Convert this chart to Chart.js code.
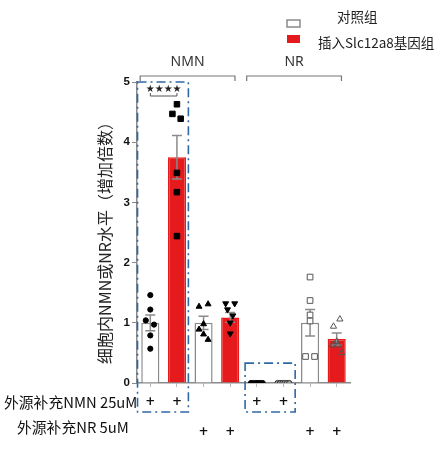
<!DOCTYPE html>
<html><head><meta charset="utf-8">
<script src="https://cdn.jsdelivr.net/npm/chart.js@4"></script>
<style>html,body{margin:0;padding:0;background:#fff;}canvas{display:block;}</style>
</head><body>
<canvas id="c" width="447" height="454"></canvas>
<script>
// ---- data ----
const categories = ['NMN-对照','NMN-Slc12a8','NR-对照','NR-Slc12a8','NMN(NR检测)-对照','NMN(NR检测)-Slc12a8','NR(NR检测)-对照','NR(NR检测)-Slc12a8'];
const means = [1.00, 3.75, 1.00, 1.09, 0, 0, 1.00, 0.73];
const sem   = [0.13, 0.36, 0.11, 0.08, 0, 0, 0.22, 0.10];
const pts0 = [1.46, 1.22, 1.04, 0.97, 0.79, 0.57];
const pts1 = [4.63, 4.47, 4.39, 3.49, 3.17, 2.44];
const pts2 = [1.27, 1.31, 0.98, 0.89, 0.81, 0.72];
const pts3 = [1.32, 1.32, 1.22, 1.12, 1.00, 0.82];
const pts4 = [0, 0, 0, 0, 0, 0];
const pts5 = [0, 0, 0, 0, 0, 0];
const pts6 = [1.76, 1.37, 1.13, 1.03, 0.44, 0.44];
const pts7 = [1.06, 0.94, 0.69, 0.63, 0.63, 0.50];
const jit0 = [0, 0, -0.17, 0.14, 0, 0];
const jit1 = [0, -0.17, 0.14, 0, 0, 0];
const jit2 = [-0.17, 0.17, 0, -0.17, 0, 0.17];
const jit3 = [-0.17, 0.17, -0.1, 0.1, 0, 0];
const jit4 = [-0.22, -0.13, -0.04, 0.04, 0.13, 0.22];
const jit5 = [-0.22, -0.13, -0.04, 0.04, 0.13, 0.22];
const jit6 = [0, 0, 0, 0, -0.17, 0.17];
const jit7 = [0.12, -0.12, 0, -0.17, 0.05, 0.19];
const nmnAdded = [1,1,0,0,1,1,0,0];
const nrAdded  = [0,0,1,1,0,0,1,1];
const groupLabels = ['NMN','NR'];
const yTicks = [0,1,2,3,4,5];
const legendLabels = ['对照组','插入Slc12a8基因组'];
const rowLabels = ['外源补充NMN 25uM','外源补充NR 5uM'];
const yTitle = '细胞内NMN或NR水平（增加倍数）';

const RED = '#e41a1c', GREY = '#8a8a8a';
const toXY = (vals, jit, idx) => vals.map((v,i)=>({x: idx + jit[i], y: v}));

function ptDs(vals, jit, idx, style, fill, stroke, rot, r) {
  return {type:'scatter', data: toXY(vals, jit, idx), pointStyle: style,
    pointRadius: r || 3.2, pointBackgroundColor: fill, pointBorderColor: stroke,
    pointBorderWidth: 1, pointRotation: rot || 0, order: 0};
}

const overlay = {
  id: 'overlay',
  afterDatasetDraw(chart, args) {
    if (args.index !== 0) return;
    const ctx = chart.ctx, x = chart.scales.x, y = chart.scales.y;
    ctx.save();
    ctx.strokeStyle = GREY; ctx.lineWidth = 1.5;
    means.forEach((m,i)=>{
      if (!sem[i]) return;
      const cx = x.getPixelForValue(i);
      const t = y.getPixelForValue(m+sem[i]), b = y.getPixelForValue(m-sem[i]);
      ctx.beginPath(); ctx.moveTo(cx,t); ctx.lineTo(cx,b);
      ctx.moveTo(cx-5,t); ctx.lineTo(cx+5,t); ctx.moveTo(cx-5,b); ctx.lineTo(cx+5,b); ctx.stroke();
    });
    ctx.restore();
  },
  afterDraw(chart) {
    const ctx = chart.ctx, x = chart.scales.x, y = chart.scales.y;
    const cw = x.getPixelForValue(1) - x.getPixelForValue(0);
    ctx.save();
    // y title
    ctx.save();
    ctx.translate(105, 239); ctx.rotate(-Math.PI/2);
    ctx.font = '16px "Noto Sans CJK SC", "Noto Sans", sans-serif';
    ctx.fillStyle = '#222'; ctx.textAlign = 'center'; ctx.textBaseline = 'middle';
    ctx.fillText(yTitle, 0, 0);
    ctx.restore();
    // group brackets
    ctx.strokeStyle = '#777'; ctx.lineWidth = 1.2;
    [[0,3],[4,7]].forEach((g,gi)=>{
      const l = x.getPixelForValue(g[0]) - 0.38*cw, r = x.getPixelForValue(g[1]) + 0.18*cw;
      const by = 76;
      ctx.beginPath(); ctx.moveTo(l, by+5); ctx.lineTo(l, by); ctx.lineTo(r, by); ctx.lineTo(r, by+5); ctx.stroke();
      ctx.font = '14px "Noto Sans", "DejaVu Sans", sans-serif';
      ctx.fillStyle = '#333'; ctx.textAlign = 'center'; ctx.textBaseline = 'middle';
      ctx.fillText(groupLabels[gi], (l+r)/2, 62);
    });
    // significance
    const s0 = x.getPixelForValue(0), s1 = x.getPixelForValue(1);
    ctx.strokeStyle = '#555'; ctx.lineWidth = 1;
    ctx.beginPath(); ctx.moveTo(s0, 93); ctx.lineTo(s0, 96); ctx.lineTo(s1, 96); ctx.lineTo(s1, 93); ctx.stroke();
    ctx.font = 'bold 10px "DejaVu Sans", sans-serif'; ctx.fillStyle = '#222';
    ctx.textAlign = 'center'; ctx.textBaseline = 'middle';
    ctx.fillText('★★★★', (s0+s1)/2, 89);
    // dash-dot rectangles
    ctx.strokeStyle = '#2f68a6'; ctx.lineWidth = 1.6; ctx.setLineDash([9,4,2,4]);
    const r1l = x.getPixelForValue(0) - 0.48*cw, r1r = x.getPixelForValue(1) + 0.43*cw;
    ctx.strokeRect(r1l, y.getPixelForValue(5), r1r - r1l, 412 - y.getPixelForValue(5));
    const r2l = x.getPixelForValue(4) - 0.44*cw, r2r = x.getPixelForValue(5) + 0.44*cw;
    ctx.strokeRect(r2l, y.getPixelForValue(0.33), r2r - r2l, 412 - y.getPixelForValue(0.33));
    ctx.setLineDash([]);
    // row labels & plus signs
    ctx.font = '14.8px "Noto Sans CJK SC", "Noto Sans", sans-serif'; ctx.fillStyle = '#111';
    ctx.textAlign = 'left'; ctx.textBaseline = 'middle';
    ctx.fillText(rowLabels[0], 4, 402);
    ctx.fillText(rowLabels[1], 17, 427);
    ctx.font = 'bold 12px "DejaVu Sans", sans-serif'; ctx.textAlign = 'center';
    nmnAdded.forEach((v,i)=>{ if (v) ctx.fillText('+', x.getPixelForValue(i), 402); });
    nrAdded.forEach((v,i)=>{ if (v) ctx.fillText('+', x.getPixelForValue(i), 432); });
    // legend
    ctx.strokeStyle = GREY; ctx.lineWidth = 1.5; ctx.fillStyle = '#fff';
    ctx.fillRect(287, 20, 13, 7); ctx.strokeRect(287, 20, 13, 7);
    ctx.fillStyle = RED; ctx.fillRect(287, 35, 13, 8);
    ctx.font = '13.5px "Noto Sans CJK SC", sans-serif'; ctx.fillStyle = '#222';
    ctx.textAlign = 'left'; ctx.textBaseline = 'middle';
    ctx.fillText(legendLabels[0], 337, 17);
    ctx.fillText(legendLabels[1], 318, 43);
    ctx.restore();
  }
};

new Chart(document.getElementById('c'), {
  type: 'bar',
  data: {
    datasets: [
      {type:'bar', label: 'bars', data: means.map((m,i)=>({x: i, y: m})), order: 1, grouped: false,
       backgroundColor: means.map((_,i)=> i%2 ? RED : '#fff'),
       borderColor: means.map((_,i)=> i%2 ? RED : GREY),
       borderWidth: 1.5, barPercentage: 0.68, categoryPercentage: 1},
      ptDs(pts0, jit0, 0, 'circle', '#000', '#000', 0, 2.6),
      ptDs(pts1, jit1, 1, 'rect', '#000', '#000', 0, 3.9),
      ptDs(pts2, jit2, 2, 'triangle', '#000', '#000', 0, 3.4),
      ptDs(pts3, jit3, 3, 'triangle', '#000', '#000', 180, 3.4),
      ptDs(pts4, jit4, 4, 'circle', '#000', '#000', 0, 2.6),
      ptDs(pts5, jit5, 5, 'circle', '#999', '#333', 0, 2.6),
      ptDs(pts6, jit6, 6, 'rect', '#fff', '#555', 0, 4.0),
      ptDs(pts7, jit7, 7, 'triangle', 'rgba(255,255,255,0)', '#555', 0, 3.6)
    ]
  },
  options: {
    responsive: false, animation: false, devicePixelRatio: 1,
    layout: {padding: {top: 82, right: 97, left: 0, bottom: 0}},
    plugins: {legend: {display: false}, tooltip: {enabled: false}},
    scales: {
      x: {type:'linear', offset: false, min: -0.5, max: 7.5,
          afterBuildTicks(s) { s.ticks = categories.map((_,i)=>({value: i})); },
          grid: {offset: false, drawOnChartArea: false, tickLength: 4, color: '#bbb'},
          border: {color: GREY, width: 1.5},
          ticks: {display: false},
          afterFit(s) { s.height = 71; }},
      y: {min: 0, max: 5,
          afterBuildTicks(s) { s.ticks = yTicks.map(v=>({value: v})); },
          grid: {drawOnChartArea: false, tickLength: 5, color: GREY},
          border: {color: GREY, width: 1.5},
          ticks: {padding: 2, color: '#111', font: {family: '"Liberation Sans", Arial, sans-serif', size: 11.5, weight: 'bold'}},
          afterFit(s) { s.width = 137; }}
    }
  },
  plugins: [overlay]
});
</script>
</body></html>
